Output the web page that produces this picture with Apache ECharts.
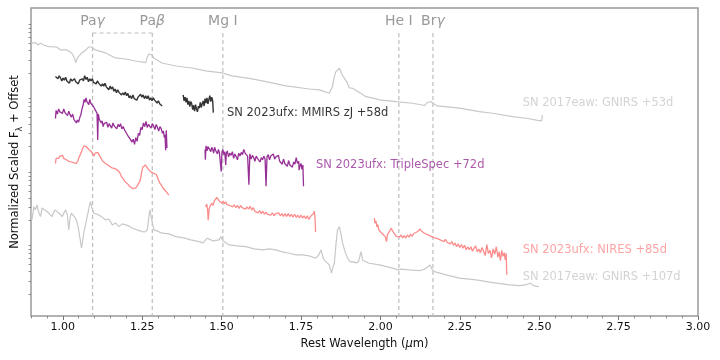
<!DOCTYPE html>
<html>
<head>
<meta charset="utf-8">
<script src="https://cdn.jsdelivr.net/npm/echarts@6/dist/echarts.min.js"></script>
<style>html,body{margin:0;padding:0;background:#fff}#c{width:720px;height:360px}</style>
</head>
<body>
<div id="c"></div>
<script>
// ---- data: [wavelength (um), log10 normalized scaled flux + offset] ----
const gnirs53 = [[0.900,0.701],[0.903,0.723],[0.914,0.710],[0.922,0.678],[0.930,0.701],[0.940,0.678],[0.956,0.655],[0.981,0.651],[0.993,0.611],[1.013,0.611],[1.028,0.570],[1.035,0.516],[1.041,0.438],[1.046,0.502],[1.050,0.502],[1.060,0.570],[1.073,0.611],[1.082,0.651],[1.087,0.678],[1.091,0.651],[1.103,0.611],[1.135,0.570],[1.166,0.502],[1.198,0.488],[1.229,0.461],[1.261,0.438],[1.265,0.502],[1.271,0.556],[1.277,0.574],[1.281,0.543],[1.287,0.502],[1.312,0.434],[1.356,0.393],[1.407,0.366],[1.450,0.326],[1.502,0.299],[1.533,0.258],[1.596,0.217],[1.659,0.163],[1.703,0.122],[1.776,0.081],[1.808,0.068],[1.839,0.023],[1.844,0.023],[1.849,0.113],[1.855,0.248],[1.860,0.316],[1.871,0.362],[1.880,0.271],[1.886,0.231],[1.896,0.163],[1.902,0.095],[1.913,0.091],[1.934,0.034],[1.955,-0.023],[1.987,-0.054],[1.997,-0.068],[2.049,-0.091],[2.101,-0.113],[2.132,-0.136],[2.139,-0.145],[2.148,-0.102],[2.160,-0.091],[2.167,-0.115],[2.180,-0.149],[2.249,-0.180],[2.312,-0.227],[2.353,-0.248],[2.416,-0.294],[2.460,-0.316],[2.495,-0.346],[2.508,-0.353],[2.510,-0.271]];

const mmirsSeg1 = [[0.977,0.25],[0.981,0.26],[0.985,0.22],[0.989,0.26],[0.993,0.23],[0.997,0.19],[1.001,0.23],[1.005,0.20],[1.009,0.24],[1.013,0.19],[1.017,0.21],[1.021,0.16],[1.025,0.22],[1.029,0.19],[1.033,0.17],[1.037,0.22],[1.041,0.18],[1.045,0.20],[1.049,0.15],[1.053,0.20],[1.057,0.18],[1.061,0.22],[1.065,0.19],[1.069,0.26],[1.073,0.21],[1.077,0.24],[1.081,0.18],[1.085,0.22],[1.089,0.19],[1.093,0.22],[1.097,0.17],[1.101,0.19],[1.105,0.15],[1.109,0.19],[1.113,0.16],[1.117,0.18],[1.121,0.12],[1.125,0.15],[1.129,0.12],[1.133,0.16],[1.137,0.11],[1.141,0.13],[1.145,0.07],[1.149,0.12],[1.153,0.08],[1.157,0.11],[1.161,0.05],[1.165,0.08],[1.169,0.03],[1.173,0.07],[1.177,0.035],[1.181,0.06],[1.185,0.00],[1.189,0.03],[1.193,0.00],[1.197,0.04],[1.201,-0.01],[1.205,0.02],[1.209,-0.04],[1.213,-0.01],[1.217,-0.05],[1.221,0.00],[1.225,-0.05],[1.229,-0.03],[1.233,-0.07],[1.237,-0.03],[1.241,-0.05],[1.245,0.01],[1.249,-0.03],[1.253,0.00],[1.257,-0.05],[1.261,-0.01],[1.265,-0.05],[1.269,-0.01],[1.273,-0.07],[1.277,-0.04],[1.281,-0.08],[1.285,-0.04],[1.289,-0.07],[1.293,-0.05],[1.297,-0.11],[1.301,-0.08],[1.305,-0.12],[1.309,-0.10],[1.313,-0.15]];
const mmirsSeg2 = [[1.379,0.00],[1.382,-0.08],[1.385,-0.03],[1.388,-0.10],[1.391,-0.04],[1.394,-0.13],[1.397,-0.08],[1.400,-0.16],[1.403,-0.09],[1.406,-0.12],[1.409,-0.20],[1.412,-0.14],[1.415,-0.22],[1.418,-0.13],[1.421,-0.19],[1.424,-0.23],[1.427,-0.15],[1.430,-0.18],[1.433,-0.10],[1.436,-0.17],[1.439,-0.12],[1.442,-0.08],[1.445,-0.15],[1.448,-0.05],[1.451,-0.11],[1.454,-0.04],[1.457,-0.12],[1.460,-0.06],[1.463,-0.01],[1.466,-0.09],[1.469,-0.03],[1.472,-0.08],[1.474,-0.24]];

const tspecSeg1 = [[0.977,-0.32],[0.979,-0.21],[0.983,-0.26],[0.987,-0.19],[0.991,-0.23],[0.995,-0.21],[0.999,-0.25],[1.003,-0.19],[1.007,-0.24],[1.011,-0.23],[1.015,-0.28],[1.019,-0.22],[1.023,-0.27],[1.027,-0.30],[1.031,-0.26],[1.035,-0.33],[1.039,-0.31],[1.043,-0.38],[1.046,-0.34],[1.050,-0.37],[1.054,-0.30],[1.057,-0.27],[1.061,-0.18],[1.064,-0.14],[1.067,-0.06],[1.070,-0.10],[1.073,-0.04],[1.076,-0.09],[1.079,-0.07],[1.082,-0.13],[1.085,-0.06],[1.088,-0.11],[1.091,-0.12],[1.094,-0.09],[1.097,-0.16],[1.100,-0.15],[1.103,-0.21],[1.106,-0.19],[1.108,-0.25],[1.110,-0.61],[1.112,-0.26],[1.115,-0.33],[1.118,-0.31],[1.121,-0.38],[1.124,-0.35],[1.127,-0.43],[1.130,-0.39],[1.134,-0.41],[1.138,-0.37],[1.142,-0.44],[1.146,-0.39],[1.150,-0.40],[1.154,-0.45],[1.158,-0.38],[1.162,-0.42],[1.166,-0.41],[1.170,-0.46],[1.174,-0.40],[1.178,-0.43],[1.182,-0.39],[1.186,-0.46],[1.190,-0.43],[1.194,-0.47],[1.198,-0.50],[1.202,-0.49],[1.206,-0.56],[1.210,-0.55],[1.214,-0.61],[1.218,-0.64],[1.222,-0.60],[1.226,-0.67],[1.230,-0.58],[1.234,-0.63],[1.238,-0.52],[1.242,-0.55],[1.246,-0.44],[1.250,-0.47],[1.254,-0.38],[1.258,-0.43],[1.262,-0.36],[1.266,-0.44],[1.270,-0.40],[1.274,-0.38],[1.278,-0.45],[1.282,-0.39],[1.286,-0.42],[1.290,-0.47],[1.294,-0.40],[1.298,-0.44],[1.302,-0.49],[1.306,-0.43],[1.310,-0.46],[1.314,-0.52],[1.317,-0.49],[1.320,-0.58],[1.322,-0.54],[1.324,-0.75],[1.326,-0.48],[1.328,-0.72]];
const tspecSeg2 = [[1.448,-0.74],[1.449,-0.88],[1.451,-0.69],[1.454,-0.76],[1.457,-0.70],[1.460,-0.72],[1.463,-0.68],[1.466,-0.77],[1.469,-0.71],[1.472,-0.74],[1.475,-0.79],[1.478,-0.71],[1.481,-0.75],[1.484,-0.73],[1.487,-0.80],[1.490,-0.74],[1.493,-0.78],[1.496,-0.76],[1.499,-1.04],[1.501,-0.78],[1.504,-0.74],[1.507,-0.81],[1.510,-0.77],[1.513,-0.95],[1.515,-0.79],[1.518,-0.76],[1.522,-0.84],[1.526,-0.79],[1.530,-0.82],[1.534,-0.77],[1.538,-0.86],[1.542,-0.80],[1.546,-0.84],[1.550,-0.88],[1.554,-0.79],[1.558,-0.83],[1.562,-0.78],[1.566,-0.81],[1.570,-0.74],[1.574,-0.79],[1.578,-0.77],[1.582,-0.83],[1.586,-1.22],[1.589,-0.80],[1.593,-0.87],[1.597,-0.82],[1.601,-0.85],[1.605,-0.90],[1.609,-0.83],[1.613,-0.86],[1.617,-0.84],[1.621,-0.91],[1.625,-0.85],[1.629,-0.88],[1.633,-0.83],[1.637,-0.87],[1.640,-1.24],[1.643,-0.84],[1.647,-0.81],[1.651,-0.88],[1.655,-0.83],[1.659,-0.85],[1.663,-0.80],[1.667,-0.87],[1.671,-0.84],[1.675,-0.86],[1.679,-0.82],[1.683,-0.90],[1.687,-0.88],[1.691,-0.94],[1.695,-0.87],[1.699,-0.93],[1.703,-0.91],[1.707,-0.97],[1.711,-0.89],[1.715,-0.95],[1.719,-0.93],[1.723,-0.98],[1.727,-0.91],[1.731,-0.94],[1.735,-0.85],[1.739,-0.93],[1.743,-0.90],[1.744,-1.02],[1.747,-0.96],[1.750,-0.93],[1.753,-1.01],[1.756,-0.95],[1.758,-1.24]];

const niresSeg1 = [[0.977,-0.93],[0.979,-0.86],[0.983,-0.84],[0.987,-0.86],[0.991,-0.83],[0.995,-0.85],[0.999,-0.82],[1.003,-0.86],[1.007,-0.84],[1.011,-0.88],[1.015,-0.86],[1.019,-0.90],[1.023,-0.88],[1.027,-0.91],[1.031,-0.89],[1.035,-0.92],[1.039,-0.90],[1.043,-0.93],[1.047,-0.90],[1.051,-0.85],[1.055,-0.81],[1.059,-0.77],[1.063,-0.72],[1.067,-0.69],[1.070,-0.67],[1.074,-0.70],[1.078,-0.71],[1.082,-0.74],[1.086,-0.72],[1.090,-0.77],[1.094,-0.79],[1.098,-0.83],[1.102,-0.79],[1.106,-0.81],[1.110,-0.78],[1.114,-0.80],[1.118,-0.84],[1.122,-0.86],[1.126,-0.90],[1.130,-0.89],[1.135,-0.93],[1.140,-0.92],[1.145,-0.96],[1.150,-0.95],[1.155,-0.99],[1.160,-0.97],[1.165,-1.00],[1.170,-0.99],[1.175,-1.03],[1.180,-1.06],[1.185,-1.11],[1.190,-1.14],[1.195,-1.17],[1.200,-1.19],[1.205,-1.21],[1.210,-1.24],[1.215,-1.26],[1.220,-1.27],[1.225,-1.25],[1.230,-1.26],[1.235,-1.23],[1.240,-1.21],[1.244,-1.16],[1.248,-1.06],[1.252,-0.98],[1.256,-0.96],[1.260,-0.95],[1.264,-0.97],[1.268,-1.00],[1.272,-1.02],[1.276,-1.04],[1.280,-1.05],[1.285,-1.06],[1.290,-1.05],[1.295,-1.08],[1.300,-1.14],[1.305,-1.19],[1.310,-1.22],[1.315,-1.26],[1.320,-1.28],[1.325,-1.31],[1.330,-1.33],[1.334,-1.36]];
const niresSeg2 = [[1.450,-1.52],[1.453,-1.48],[1.456,-1.56],[1.458,-1.70],[1.461,-1.54],[1.465,-1.50],[1.469,-1.47],[1.473,-1.50],[1.477,-1.44],[1.481,-1.45],[1.485,-1.39],[1.489,-1.40],[1.493,-1.44],[1.497,-1.42],[1.501,-1.47],[1.505,-1.44],[1.509,-1.48],[1.513,-1.45],[1.517,-1.49],[1.521,-1.47],[1.525,-1.50],[1.530,-1.48],[1.535,-1.52],[1.540,-1.49],[1.545,-1.53],[1.550,-1.50],[1.555,-1.54],[1.560,-1.50],[1.565,-1.53],[1.570,-1.51],[1.575,-1.55],[1.580,-1.52],[1.585,-1.55],[1.590,-1.51],[1.595,-1.56],[1.600,-1.53],[1.605,-1.58],[1.610,-1.56],[1.615,-1.60],[1.620,-1.57],[1.625,-1.61],[1.630,-1.58],[1.635,-1.62],[1.640,-1.59],[1.645,-1.62],[1.650,-1.60],[1.655,-1.63],[1.660,-1.60],[1.665,-1.64],[1.670,-1.61],[1.675,-1.63],[1.680,-1.60],[1.685,-1.64],[1.690,-1.61],[1.695,-1.65],[1.700,-1.61],[1.705,-1.65],[1.710,-1.61],[1.715,-1.65],[1.720,-1.62],[1.725,-1.66],[1.730,-1.62],[1.735,-1.66],[1.740,-1.63],[1.745,-1.67],[1.750,-1.63],[1.755,-1.67],[1.760,-1.64],[1.765,-1.68],[1.770,-1.64],[1.775,-1.69],[1.780,-1.65],[1.785,-1.64],[1.789,-1.61],[1.792,-1.58],[1.794,-1.66],[1.796,-1.86]];
const niresSeg3 = [[1.981,-1.67],[1.983,-1.74],[1.986,-1.71],[1.989,-1.79],[1.992,-1.76],[1.995,-1.83],[1.998,-1.81],[2.001,-1.86],[2.004,-1.84],[2.008,-1.89],[2.012,-1.87],[2.016,-1.93],[2.019,-1.99],[2.022,-1.90],[2.026,-1.87],[2.030,-1.84],[2.034,-1.81],[2.038,-1.83],[2.042,-1.87],[2.046,-1.89],[2.050,-1.92],[2.055,-1.90],[2.060,-1.93],[2.065,-1.90],[2.070,-1.94],[2.075,-1.91],[2.080,-1.94],[2.085,-1.90],[2.090,-1.93],[2.095,-1.89],[2.100,-1.92],[2.105,-1.88],[2.110,-1.90],[2.115,-1.86],[2.120,-1.84],[2.125,-1.82],[2.130,-1.85],[2.135,-1.84],[2.140,-1.88],[2.145,-1.86],[2.150,-1.90],[2.155,-1.89],[2.160,-1.92],[2.165,-1.90],[2.170,-1.94],[2.175,-1.92],[2.180,-1.95],[2.185,-1.93],[2.190,-1.97],[2.195,-1.95],[2.200,-1.99],[2.205,-1.96],[2.210,-2.00],[2.215,-1.98],[2.220,-2.02],[2.225,-1.99],[2.230,-2.04],[2.235,-2.01],[2.240,-2.06],[2.245,-2.02],[2.250,-2.07],[2.255,-2.03],[2.260,-2.08],[2.265,-2.04],[2.270,-2.10],[2.275,-2.06],[2.280,-2.10],[2.285,-2.06],[2.290,-2.12],[2.295,-2.08],[2.300,-2.05],[2.305,-2.13],[2.310,-2.09],[2.315,-2.14],[2.320,-2.07],[2.325,-2.12],[2.330,-2.18],[2.335,-2.03],[2.340,-2.15],[2.345,-2.11],[2.350,-2.21],[2.355,-2.09],[2.360,-2.16],[2.365,-2.06],[2.370,-2.20],[2.374,-2.13],[2.378,-2.25],[2.382,-2.11],[2.386,-2.19],[2.390,-2.14],[2.393,-2.24],[2.396,-2.15],[2.398,-2.44]];

const gnirs107 = [[0.900,-1.537],[0.903,-1.696],[0.909,-1.516],[0.914,-1.56],[0.919,-1.493],[0.924,-1.588],[0.930,-1.651],[0.935,-1.533],[0.940,-1.516],[0.948,-1.574],[0.956,-1.605],[0.966,-1.651],[0.975,-1.560],[0.982,-1.583],[0.991,-1.615],[0.998,-1.651],[1.009,-1.560],[1.014,-1.615],[1.019,-1.832],[1.023,-1.669],[1.027,-1.605],[1.040,-1.673],[1.045,-1.723],[1.050,-1.832],[1.055,-1.967],[1.059,-2.080],[1.063,-1.967],[1.066,-1.876],[1.077,-1.651],[1.082,-1.547],[1.087,-1.448],[1.091,-1.520],[1.098,-1.605],[1.114,-1.628],[1.123,-1.655],[1.135,-1.696],[1.145,-1.683],[1.156,-1.764],[1.166,-1.737],[1.177,-1.787],[1.187,-1.750],[1.198,-1.764],[1.208,-1.777],[1.219,-1.809],[1.234,-1.832],[1.250,-1.855],[1.259,-1.859],[1.266,-1.832],[1.270,-1.696],[1.274,-1.560],[1.279,-1.669],[1.287,-1.832],[1.296,-1.845],[1.313,-1.876],[1.334,-1.886],[1.356,-1.923],[1.382,-1.940],[1.403,-1.967],[1.429,-1.991],[1.442,-2.008],[1.455,-1.944],[1.473,-1.981],[1.492,-1.967],[1.497,-1.923],[1.505,-1.981],[1.524,-2.035],[1.549,-2.049],[1.576,-2.058],[1.603,-2.089],[1.629,-2.103],[1.650,-2.089],[1.671,-2.103],[1.691,-2.130],[1.713,-2.148],[1.735,-2.171],[1.755,-2.171],[1.776,-2.184],[1.797,-2.216],[1.806,-2.171],[1.813,-2.103],[1.819,-2.198],[1.823,-2.239],[1.839,-2.307],[1.846,-2.419],[1.850,-2.347],[1.855,-2.284],[1.860,-2.035],[1.865,-1.832],[1.871,-1.787],[1.875,-1.872],[1.881,-2.012],[1.889,-2.130],[1.897,-2.216],[1.905,-2.266],[1.913,-2.262],[1.923,-2.279],[1.931,-2.266],[1.939,-2.126],[1.944,-2.239],[1.955,-2.266],[1.965,-2.284],[1.997,-2.307],[2.039,-2.351],[2.055,-2.374],[2.065,-2.365],[2.091,-2.374],[2.123,-2.384],[2.139,-2.365],[2.145,-2.347],[2.157,-2.307],[2.162,-2.361],[2.170,-2.398],[2.207,-2.442],[2.249,-2.487],[2.302,-2.510],[2.354,-2.547],[2.407,-2.578],[2.438,-2.587],[2.457,-2.578],[2.472,-2.555],[2.483,-2.591],[2.499,-2.601]];

// line identifications
const lineNames = ['Pa{i|γ}', 'Pa{i|β}', 'Mg I', 'He I', 'Br{i|γ}'];
const lineWaves = [1.0938, 1.2818, 1.5040, 2.0581, 2.1655];
const lineTopLevel = 0.841;
const lineLabelLevel = 1.0;

// spectrum annotations
const specLabels = ['SN 2017eaw: GNIRS +53d', 'SN 2023ufx: MMIRS zJ +58d', 'SN 2023ufx: TripleSpec +72d', 'SN 2023ufx: NIRES +85d', 'SN 2017eaw: GNIRS +107d'];
const specLabelX = [2.448, 1.517, 1.797, 2.448, 2.448];
const specLabelY = [-0.104, -0.240, -0.950, -2.103, -2.465];

const xTickLabels = [1.00, 1.25, 1.50, 1.75, 2.00, 2.25, 2.50, 2.75, 3.00];
const X_MIN = 0.9, X_MAX = 3.0, Y_MIN = -3, Y_MAX = 1.18;

// ---- styling ----
const FONT = 'DejaVu Sans';
const C_GRAY = '#c8c8c8', C_BLACK = '#333333', C_PURPLE = '#962f96', C_SALMON = '#fc8c8c';
const specColors = [C_GRAY, '#000000', C_PURPLE, C_SALMON, C_GRAY];

const xMinorTicks = [];
for (let i = 18; i <= 60; i++) { if (i % 5 !== 0) xMinorTicks.push(+(i * 0.05).toFixed(2)); }
const yMinorTicks = [];
for (let d = -3; d <= 1; d++) for (let k = 2; k <= 9; k++) { const v = d + Math.log10(k); if (v < Y_MAX) yMinorTicks.push(v); }

function spec(data, color, z, w) {
  return { type: 'line', data: data, symbol: 'none', showSymbol: false, silent: true, z: z,
    lineStyle: { color: color, width: w || 1.2 }, itemStyle: { color: color } };
}
function dashed(data) {
  return { type: 'line', data: data, symbol: 'none', showSymbol: false, silent: true, z: 1,
    lineStyle: { color: '#bdbdbd', width: 1.2, type: [4, 3] } };
}

const series = [];
lineWaves.forEach(w => series.push(dashed([[w, lineTopLevel], [w, Y_MIN]])));
series.push(dashed([[lineWaves[0], lineTopLevel], [lineWaves[1], lineTopLevel]]));
series.push(spec(gnirs53, C_GRAY, 2));
series.push(spec(gnirs107, C_GRAY, 2));
series.push(spec(mmirsSeg1, C_BLACK, 3, 1.4));
series.push(spec(mmirsSeg2, C_BLACK, 3, 1.4));
series.push(spec(tspecSeg1, C_PURPLE, 3, 1.3));
series.push(spec(tspecSeg2, C_PURPLE, 3, 1.3));
series.push(spec(niresSeg1, C_SALMON, 3, 1.3));
series.push(spec(niresSeg2, C_SALMON, 3, 1.3));
series.push(spec(niresSeg3, C_SALMON, 3, 1.3));
series.push({
  type: 'scatter', symbolSize: 0, silent: true, z: 5,
  data: lineWaves.map((w, i) => ({ value: [w, lineLabelLevel], name: lineNames[i] })),
  label: { show: true, position: 'inside', formatter: p => p.data.name, color: '#808080', fontSize: 14, fontFamily: FONT,
    rich: { i: { fontStyle: 'italic', fontSize: 14, color: '#808080', fontFamily: FONT } } }
});
series.push({
  type: 'scatter', symbolSize: 0, silent: true, z: 5,
  data: specLabels.map((s, i) => ({ value: [specLabelX[i], specLabelY[i]], name: s,
    label: { color: specColors[i] } })),
  label: { show: true, position: 'right', distance: 0, formatter: p => p.data.name, fontSize: 11.5, fontFamily: FONT }
});

const chart = echarts.init(document.getElementById('c'), null, { renderer: 'canvas' });
chart.setOption({
  animation: false,
  backgroundColor: '#ffffff',
  grid: { left: 31, right: 22, top: 8, bottom: 44, show: true, borderColor: '#999999', borderWidth: 1.5, backgroundColor: 'transparent' },
  xAxis: [
    { type: 'value', min: X_MIN, max: X_MAX, position: 'bottom',
      axisLine: { show: false, onZero: false }, splitLine: { show: false },
      axisTick: { show: true, length: 4, customValues: xTickLabels, lineStyle: { color: '#777', width: 1 } },
      axisLabel: { show: true, customValues: xTickLabels, formatter: v => v.toFixed(2), fontSize: 11, color: '#111', fontFamily: FONT, margin: 6 },
      name: 'Rest Wavelength ({i|μ}m)', nameLocation: 'middle', nameGap: 19,
      nameTextStyle: { fontSize: 11.5, color: '#111', fontFamily: FONT,
        rich: { i: { fontStyle: 'italic', fontSize: 11.5, color: '#111', fontFamily: FONT } } } },
    { type: 'value', min: X_MIN, max: X_MAX, position: 'bottom',
      axisLine: { show: false, onZero: false }, splitLine: { show: false },
      axisTick: { show: true, length: 2.5, customValues: xMinorTicks, lineStyle: { color: '#777', width: 0.8 } },
      axisLabel: { show: false } }
  ],
  yAxis: {
    type: 'value', min: Y_MIN, max: Y_MAX,
    axisLine: { show: false, onZero: false }, splitLine: { show: false },
    axisTick: { show: true, length: 2.5, customValues: yMinorTicks, lineStyle: { color: '#777', width: 0.8 } },
    axisLabel: { show: false },
    name: 'Normalized Scaled F{sub|λ} + Offset', nameLocation: 'middle', nameGap: 7,
    nameTextStyle: { fontSize: 11.5, color: '#111', fontFamily: FONT,
      rich: { sub: { fontSize: 8, verticalAlign: 'bottom', lineHeight: 17, color: '#111', fontFamily: FONT } } }
  },
  series: series
});
</script>
</body>
</html>
